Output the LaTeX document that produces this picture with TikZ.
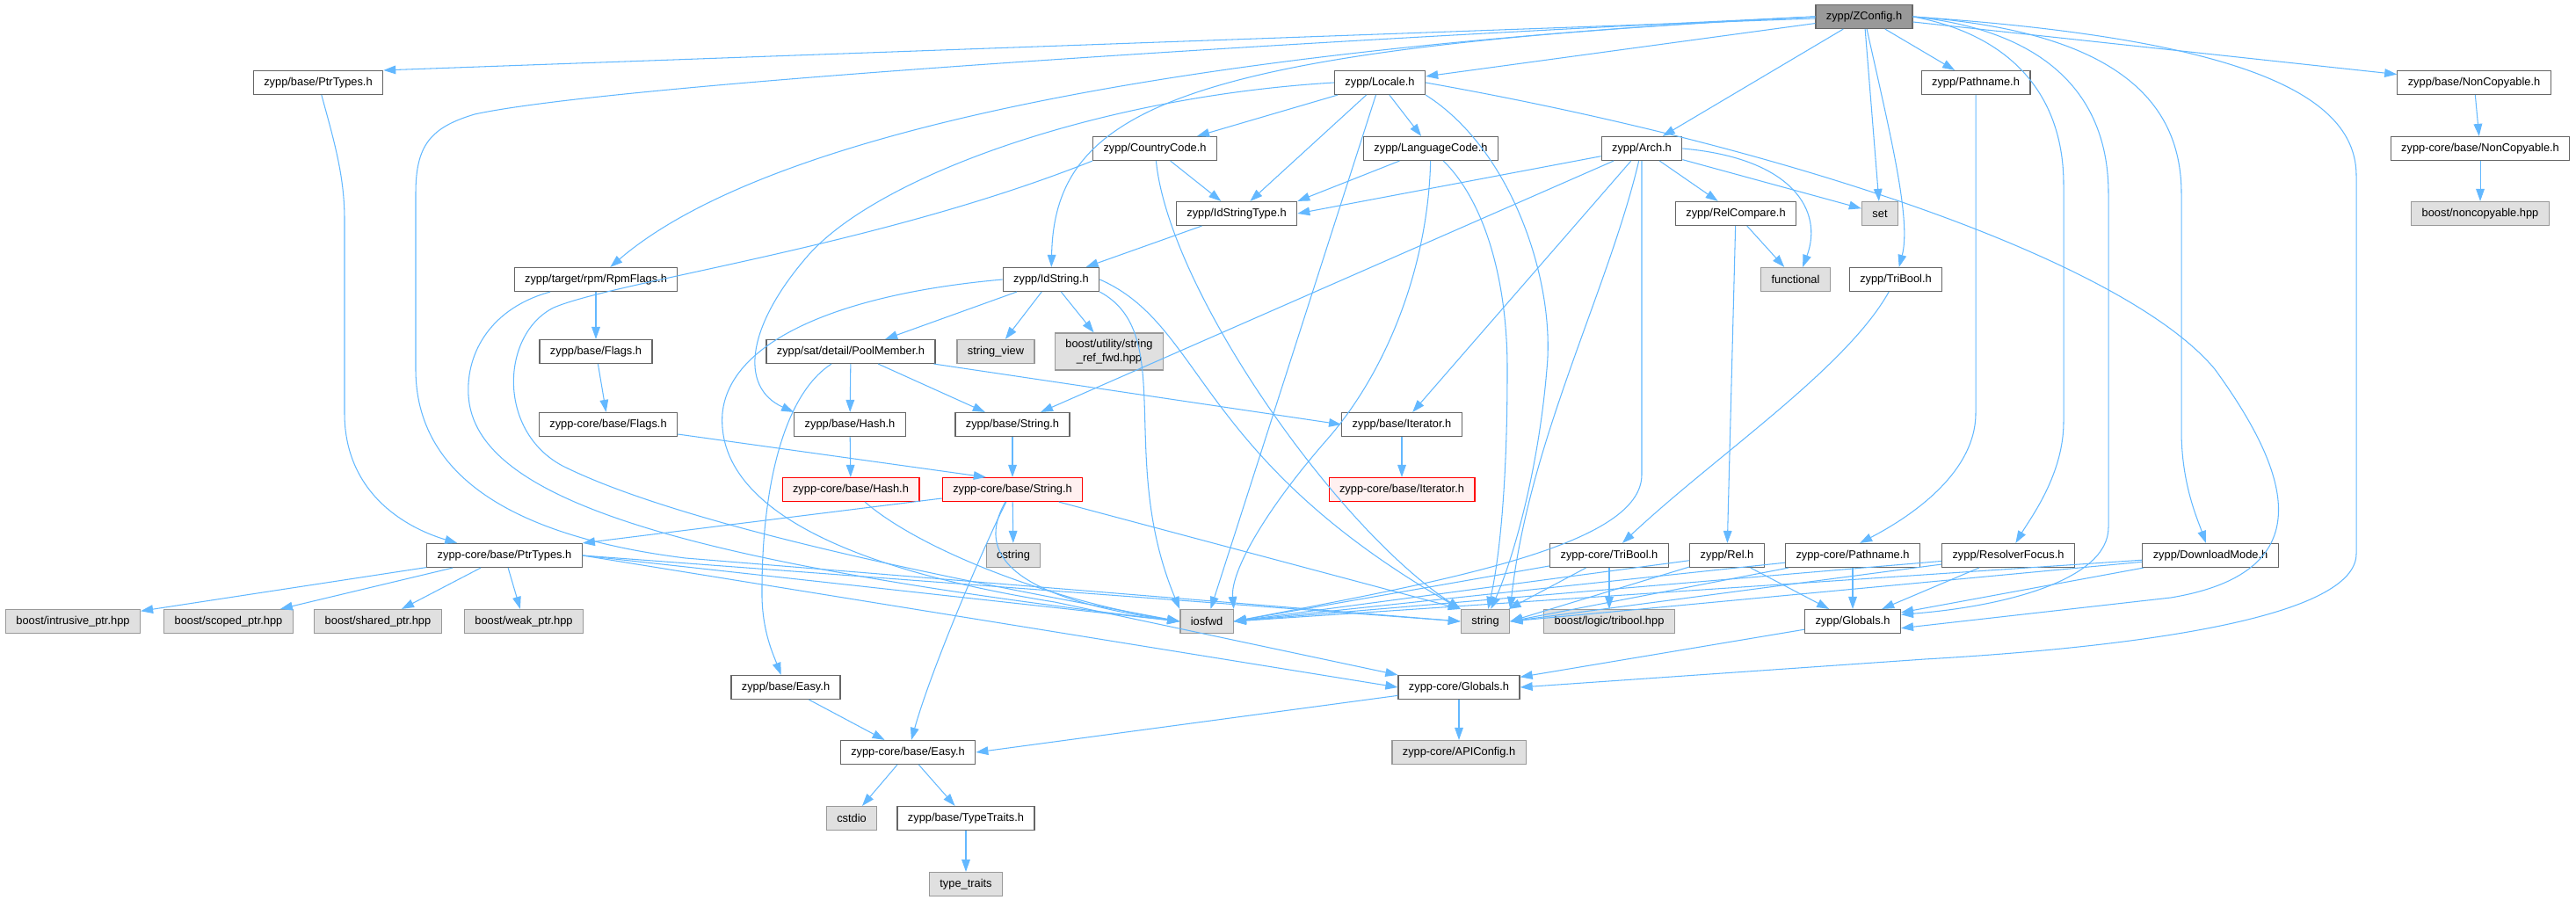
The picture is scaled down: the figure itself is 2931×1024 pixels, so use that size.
\documentclass[tikz,border=0pt]{standalone}
\usepackage{fontspec}
\setmainfont{Liberation Sans}
\usetikzlibrary{arrows.meta}
\definecolor{incblue}{HTML}{63B8FF}
\definecolor{boxgray}{HTML}{666666}
\definecolor{sysfill}{HTML}{E0E0E0}
\definecolor{sysdraw}{HTML}{999999}
\definecolor{rootfill}{HTML}{999999}
\definecolor{hotfill}{HTML}{FFF0F0}

\begin{document}
\begin{tikzpicture}[x=0.02cm, y=-0.02cm,
  hdr/.style={shape=rectangle, minimum height=15.3pt, inner xsep=6.8pt, inner ysep=1pt, draw=boxgray, line width=0.7pt, fill=white, font=\fontsize{7.3}{8.8}\selectfont},
  sys/.style={hdr, draw=sysdraw, fill=sysfill},
  root/.style={hdr, fill=rootfill},
  hot/.style={hdr, draw=red, fill=hotfill},
  inc/.style={draw=incblue, line width=0.6pt, -{Triangle[length=8pt, width=5.5pt]}}]
\useasboundingbox (0,0) rectangle (2931,1024);
\node[root] (zc) at (2121,19) {zypp/ZConfig.h};
\node[hdr] (ptr) at (362,94) {zypp/base/PtrTypes.h};
\node[hdr] (loc) at (1570,94) {zypp/Locale.h};
\node[hdr] (path) at (2248,94) {zypp/Pathname.h};
\node[hdr] (ncp) at (2815,94) {zypp/base/NonCopyable.h};
\node[hdr] (ctry) at (1314,169) {zypp/CountryCode.h};
\node[hdr] (lang) at (1628,169) {zypp/LanguageCode.h};
\node[hdr] (arch) at (1868,169) {zypp/Arch.h};
\node[hdr] (cncp) at (2822,169) {zypp-core/base/NonCopyable.h};
\node[hdr] (idst) at (1407,243) {zypp/IdStringType.h};
\node[hdr] (relc) at (1975,243) {zypp/RelCompare.h};
\node[sys] (set) at (2139,243) {set};
\node[sys] (boncp) at (2822,243) {boost/noncopyable.hpp};
\node[hdr] (rpm) at (678,318) {zypp/target/rpm/RpmFlags.h};
\node[hdr] (ids) at (1196,318) {zypp/IdString.h};
\node[sys] (func) at (2043,318) {functional};
\node[hdr] (tri) at (2157,318) {zypp/TriBool.h};
\node[hdr] (bflg) at (678,400) {zypp/base/Flags.h};
\node[hdr] (pool) at (968,400) {zypp/sat/detail/PoolMember.h};
\node[sys] (sview) at (1133,400) {string\_view};
\node[sys, align=center, minimum height=23.8pt] (sref) at (1262,400) {boost/utility/string\\\_ref\_fwd.hpp};
\node[hdr] (cflg) at (692,483) {zypp-core/base/Flags.h};
\node[hdr] (bhash) at (967,483) {zypp/base/Hash.h};
\node[hdr] (bstr) at (1152,483) {zypp/base/String.h};
\node[hdr] (biter) at (1595,483) {zypp/base/Iterator.h};
%incomplete ones
\node[hot] (chash) at (968,557) {zypp-core/base/Hash.h};
\node[hot] (cstr) at (1152,557) {zypp-core/base/String.h};
\node[hot] (citer) at (1595,557) {zypp-core/base/Iterator.h};
%
\node[hdr] (cptr) at (574,632) {zypp-core/base/PtrTypes.h};
\node[sys] (cstrg) at (1153,632) {cstring};
\node[hdr] (ctri) at (1831,632) {zypp-core/TriBool.h};
\node[hdr] (rel) at (1965,632) {zypp/Rel.h};
\node[hdr] (cpath) at (2108,632) {zypp-core/Pathname.h};
\node[hdr] (rfoc) at (2285,632) {zypp/ResolverFocus.h};
\node[hdr] (dlm) at (2515,632) {zypp/DownloadMode.h};
\node[sys] (intr) at (83,707) {boost/intrusive\_ptr.hpp};
\node[sys] (scp) at (260,707) {boost/scoped\_ptr.hpp};
\node[sys] (shp) at (430,707) {boost/shared\_ptr.hpp};
\node[sys] (wkp) at (596,707) {boost/weak\_ptr.hpp};
\node[sys] (ios) at (1373,707) {iosfwd};
\node[sys] (str) at (1690,707) {string};
\node[sys] (tbh) at (1831,707) {boost/logic/tribool.hpp};
\node[hdr] (glob) at (2108,707) {zypp/Globals.h};
\node[hdr] (beasy) at (894,782) {zypp/base/Easy.h};
\node[hdr] (cglob) at (1660,782) {zypp-core/Globals.h};
\node[hdr] (ceasy) at (1033,856) {zypp-core/base/Easy.h};
\node[sys] (api) at (1660,856) {zypp-core/APIConfig.h};
\node[sys] (cstd) at (969,931) {cstdio};
\node[hdr] (ttr) at (1099,931) {zypp/base/TypeTraits.h};
\node[sys] (tts) at (1099,1006) {type\_traits};
%ZConfig.h
\draw[inc] (zc) -- (ptr.north east);
\draw[inc] (zc) -- (loc);
\draw[inc] (zc.west) .. controls (1250,60) and (850,170) .. (rpm);
\draw[inc] (zc.west) .. controls (1350,55) and (1200,120) .. (ids);
\draw[inc] (zc) -- (arch);
\draw[inc] (zc) -- (set);
\draw[inc] (zc) .. controls (2150,150) and (2175,250) .. (tri);
\draw[inc] (zc) -- (path);
\draw[inc] (zc) -- (ncp);
\draw[inc] (zc.east) .. controls (2290,40) and (2348,110) .. (2348,210) -- (2348,480) .. controls (2348,540) and (2310,590) .. (rfoc);
\draw[inc] (zc.east) .. controls (2330,35) and (2399,110) .. (2399,220) -- (2399,600) .. controls (2399,660) and (2280,690) .. (glob.8);
\draw[inc] (zc.east) .. controls (2400,35) and (2482,110) .. (2482,220) -- (2482,490) .. controls (2482,550) and (2500,590) .. (dlm);
\draw[inc] (zc.east) .. controls (2560,45) and (2681,110) .. (2681,200) -- (2681,630) .. controls (2681,700) and (2450,735) .. (2190,750) -- (cglob.east);
\draw[inc] (zc.west) .. controls (1500,45) and (700,95) .. (540,130) .. controls (490,145) and (473,165) .. (473,220) -- (473,420) .. controls (473,560) and (620,615) .. (780,635) -- (str.west);
%Locale.h
\draw[inc] (loc) -- (ctry);
\draw[inc] (loc) -- (lang);
\draw[inc] (loc) -- (idst);
\draw[inc] (loc.west) .. controls (1250,110) and (1000,200) .. (920,290) .. controls (850,370) and (840,440) .. (bhash.north west);
\draw[inc] (loc) -- (ios);
\draw[inc] (loc.south east) .. controls (1720,170) and (1770,320) .. (1760,420) .. controls (1750,540) and (1720,640) .. (str);
\draw[inc] (loc.east) .. controls (2050,170) and (2420,300) .. (2520,420) .. controls (2600,530) and (2650,650) .. (2470,680) -- (glob.-8);
%CountryCode.h, RpmFlags.h, LanguageCode.h
\draw[inc] (ctry) -- (idst);
\draw[inc] (ctry) .. controls (1330,330) and (1520,600) .. (str.north west);
\draw[inc] (ctry.south west) .. controls (1000,280) and (700,320) .. (630,350) .. controls (570,380) and (565,490) .. (640,530) .. controls (800,610) and (1200,680) .. (ios.west);
\draw[inc] (rpm) -- (bflg);
\draw[inc] (rpm) .. controls (560,350) and (530,400) .. (533,450) .. controls (540,570) and (780,640) .. (ios.west);
\draw[inc] (lang) -- (idst.north east);
\draw[inc] (lang) .. controls (1625,300) and (1580,420) .. (1510,500) .. controls (1440,580) and (1400,650) .. (ios.north east);
\draw[inc] (lang) .. controls (1690,230) and (1715,320) .. (1715,420) .. controls (1715,560) and (1705,640) .. (str);
%Arch.h
\draw[inc] (arch) -- (idst.east);
\draw[inc] (arch) -- (bstr);
\draw[inc] (arch) -- (biter);
\draw[inc] (arch) .. controls (1830,330) and (1740,500) .. (str.north east);
\draw[inc] (arch) -- (1868,540) .. controls (1868,620) and (1650,660) .. (ios.east);
\draw[inc] (arch) -- (relc);
\draw[inc] (arch) -- (set);
\draw[inc] (arch.east) .. controls (2040,180) and (2075,240) .. (func.60);
%
\draw[inc] (idst) -- (ids);
\draw[inc] (relc) -- (func);
\draw[inc] (relc) -- (rel);
\draw[inc] (tri) .. controls (2100,420) and (1950,520) .. (ctri);
\draw[inc] (path) -- (2248,470) .. controls (2248,540) and (2170,590) .. (cpath.60);
\draw[inc] (ncp) -- (cncp);
\draw[inc] (cncp) -- (boncp);
%IdString.h, PoolMember.h
\draw[inc] (ids) -- (pool);
\draw[inc] (ids) -- (sview);
\draw[inc] (ids) -- (sref);
\draw[inc] (ids.west) .. controls (950,335) and (830,390) .. (822,470) .. controls (815,560) and (920,640) .. (1200,685) -- (cglob.north west);
\draw[inc] (ids.south east) .. controls (1340,380) and (1270,520) .. (ios.north west);
\draw[inc] (ids.east) .. controls (1370,370) and (1360,520) .. (str.north west);
\draw[inc] (pool) -- (bhash);
\draw[inc] (pool) -- (bstr);
\draw[inc] (pool) -- (biter.west);
\draw[inc] (pool) .. controls (890,450) and (866,560) .. (867,680) .. controls (868,720) and (880,745) .. (beasy);
\draw[inc] (bflg) -- (cflg);
\draw[inc] (cflg) -- (cstr.155);
\draw[inc] (bhash) -- (chash);
\draw[inc] (bstr) -- (cstr);
\draw[inc] (biter) -- (citer);
\draw[inc] (ptr) .. controls (380,160) and (392,200) .. (392,250) -- (392,470) .. controls (392,560) and (460,600) .. ([xshift=20pt]cptr.north west);
%core
\draw[inc] (chash) .. controls (1040,620) and (1180,680) .. (ios.west);
\draw[inc] (cstr) -- (cptr.north east);
\draw[inc] (cstr) -- (cstrg);
\draw[inc] (cstr) .. controls (1120,620) and (1060,760) .. (ceasy);
\draw[inc] (cstr) .. controls (1110,630) and (1150,680) .. (ios.west);
\draw[inc] (cstr) -- (str.north west);
\draw[inc] (cptr) -- (intr);
\draw[inc] (cptr) -- (scp);
\draw[inc] (cptr) -- (shp);
\draw[inc] (cptr) -- (wkp);
\draw[inc] (cptr.east) -- (ios.west);
\draw[inc] (cptr.east) -- (str.west);
\draw[inc] (cptr.east) -- (cglob.west);
\draw[inc] (ctri) -- (tbh);
\draw[inc] (ctri) -- (ios.east);
\draw[inc] (ctri) -- (str);
\draw[inc] (rel) -- (ios.east);
\draw[inc] (rel) -- (str.east);
\draw[inc] (rel) -- (glob);
\draw[inc] (cpath) -- (glob);
\draw[inc] (cpath) -- (ios.east);
\draw[inc] (cpath) -- (str.east);
\draw[inc] (rfoc) -- (glob);
\draw[inc] (rfoc) -- (ios.east);
\draw[inc] (rfoc) -- (str.east);
\draw[inc] (dlm) -- (glob);
\draw[inc] (dlm) -- (ios.east);
\draw[inc] (dlm) -- (str.east);
\draw[inc] (glob) -- (cglob);
\draw[inc] (cglob) -- (api);
\draw[inc] (cglob) -- (ceasy.east);
\draw[inc] (beasy) -- (ceasy);
\draw[inc] (ceasy) -- (cstd);
\draw[inc] (ceasy) -- (ttr);
\draw[inc] (ttr) -- (tts);
\end{tikzpicture}
\end{document}
